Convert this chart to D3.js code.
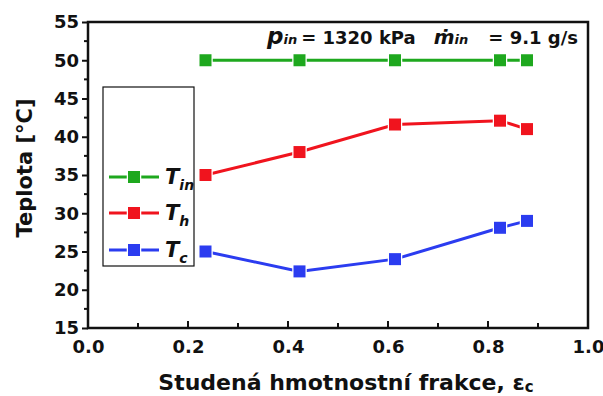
<!DOCTYPE html>
<html>
<head>
<meta charset="utf-8">
<style>
  body { margin: 0; background: #fff; }
  svg text { font-family: "DejaVu Sans", Verdana, sans-serif; font-weight: bold; fill: #111; }
</style>
</head>
<body>
<svg id="chart" width="603" height="396"></svg>
<script src="https://cdn.jsdelivr.net/npm/d3@7"></script>
<script>
// data
var fractions = [0.235, 0.423, 0.614, 0.824, 0.878];
var tIn = [50, 50, 50, 50, 50];
var tHot = [35, 38, 41.6, 42.1, 41];
var tCold = [25, 22.4, 24, 28.1, 29];
var seriesNames = ["in", "h", "c"];
var seriesColors = ["#1ea81e", "#f0141e", "#2b3cf0"];
var xTicks = [0, 0.2, 0.4, 0.6, 0.8, 1.0];
var yTicks = [15, 20, 25, 30, 35, 40, 45, 50, 55];

var svg = d3.select("#chart");
var plotL = 88, plotR = 588, plotT = 22, plotB = 328;

var x = d3.scaleLinear().domain([0, 1]).range([plotL, plotR]);
var y = d3.scaleLinear().domain([15, 55]).range([plotB, plotT]);

// frame
svg.append("rect")
  .attr("x", plotL).attr("y", plotT)
  .attr("width", plotR - plotL).attr("height", plotB - plotT)
  .attr("fill", "none").attr("stroke", "#111").attr("stroke-width", 2.5);

// y axis (ticks outward)
var yAxis = svg.append("g")
  .attr("transform", "translate(" + plotL + ",0)")
  .call(d3.axisLeft(y).tickValues(yTicks).tickSize(6).tickPadding(3).tickFormat(d3.format("d")));
yAxis.select(".domain").remove();
yAxis.selectAll("line").attr("stroke", "#111").attr("stroke-width", 2);
yAxis.selectAll("text").attr("font-size", 18).attr("fill", "#111");
svg.append("g")
  .selectAll("line")
  .data(d3.range(17.5, 55, 5))
  .enter().append("line")
    .attr("x1", plotL - 4).attr("x2", plotL)
    .attr("y1", function(d) { return y(d); })
    .attr("y2", function(d) { return y(d); })
    .attr("stroke", "#111").attr("stroke-width", 2);

// x axis (ticks inward)
var xAxis = svg.append("g")
  .attr("transform", "translate(0," + plotB + ")")
  .call(d3.axisBottom(x).tickValues(xTicks).tickSize(0).tickPadding(12).tickFormat(d3.format(".1f")));
xAxis.select(".domain").remove();
xAxis.selectAll("text").attr("font-size", 18).attr("fill", "#111");
svg.append("g")
  .selectAll("line")
  .data(d3.range(0.1, 1, 0.1))
  .enter().append("line")
    .attr("x1", function(d) { return x(d); })
    .attr("x2", function(d) { return x(d); })
    .attr("y1", plotB)
    .attr("y2", function(d, i) { return plotB - (i % 2 ? 7 : 5); })
    .attr("stroke", "#111").attr("stroke-width", 2);

// axis titles
svg.append("text")
  .attr("transform", "translate(32,168) rotate(-90)")
  .attr("text-anchor", "middle")
  .attr("font-size", 21)
  .text("Teplota [°C]");

var xt = svg.append("text")
  .attr("x", 346).attr("y", 390)
  .attr("text-anchor", "middle")
  .attr("font-size", 22)
  .text("Studená hmotnostní frakce, ε");
xt.append("tspan").attr("font-size", 15).attr("dy", 2).text("c");

// series
var series = [tIn, tHot, tCold];
var line = d3.line()
  .x(function(d, i) { return x(fractions[i]); })
  .y(function(d) { return y(d); });

series.forEach(function(vals, s) {
  var g = svg.append("g");
  g.append("path")
    .attr("d", line(vals))
    .attr("fill", "none")
    .attr("stroke", seriesColors[s])
    .attr("stroke-width", 3);
  g.selectAll("rect")
    .data(vals)
    .enter().append("rect")
      .attr("x", function(d, i) { return x(fractions[i]) - 6; })
      .attr("y", function(d) { return y(d) - 6; })
      .attr("width", 12).attr("height", 12)
      .attr("fill", seriesColors[s])
      .attr("stroke", "#fff").attr("stroke-width", 2.5)
      .attr("paint-order", "stroke");
});

// legend
svg.append("rect")
  .attr("x", 103).attr("y", 87).attr("width", 91).attr("height", 179)
  .attr("fill", "#fff").attr("stroke", "#111").attr("stroke-width", 1.2);

var legend = svg.selectAll("g.legend")
  .data(seriesNames)
  .enter().append("g")
    .attr("class", "legend")
    .attr("transform", function(d, i) { return "translate(0," + [177, 213, 250][i] + ")"; });
legend.append("line")
  .attr("x1", 109).attr("x2", 159).attr("y1", 0).attr("y2", 0)
  .attr("stroke", function(d, i) { return seriesColors[i]; })
  .attr("stroke-width", 3);
legend.append("rect")
  .attr("x", 128).attr("y", -6).attr("width", 12).attr("height", 12)
  .attr("fill", function(d, i) { return seriesColors[i]; })
  .attr("stroke", "#fff").attr("stroke-width", 2.5)
  .attr("paint-order", "stroke");
var lt = legend.append("text")
  .attr("x", 165).attr("y", 7)
  .attr("font-size", 21).attr("font-style", "italic")
  .text("T");
lt.append("tspan").attr("font-size", 14).attr("dy", 6)
  .text(function(d) { return d; });

// annotation
var ann = svg.append("text").attr("x", 267).attr("y", 44).attr("font-size", 18);
ann.append("tspan").attr("font-style", "italic").attr("font-size", 23).text("p");
ann.append("tspan").attr("font-style", "italic").attr("font-size", 13).text("in");
ann.append("tspan").attr("dx", 4).text("= 1320 kPa");
ann.append("tspan").attr("dx", 18).attr("font-style", "italic").attr("font-size", 20).text("ṁ");
ann.append("tspan").attr("font-style", "italic").attr("font-size", 13).text("in");
ann.append("tspan").attr("dx", 20).text("= 9.1 g/s");
</script>
</body>
</html>
